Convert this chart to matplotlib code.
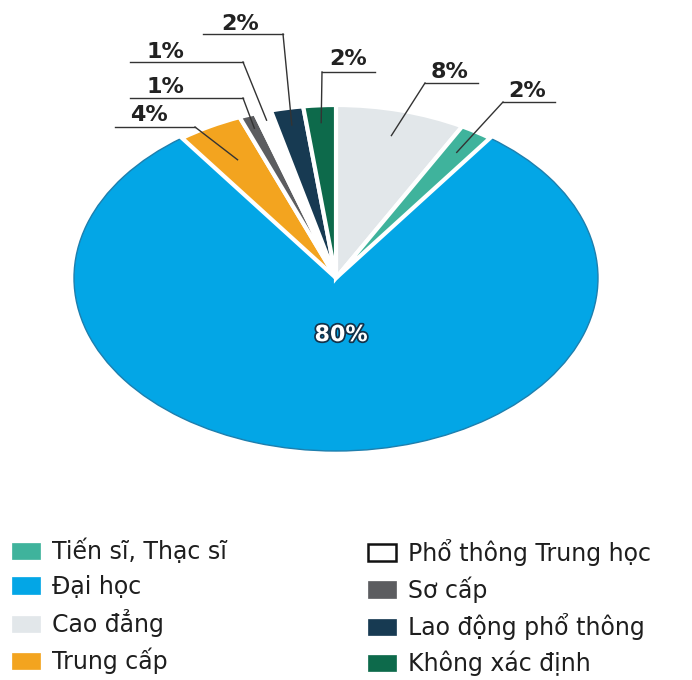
import matplotlib.pyplot as plt
import matplotlib.patheffects as pe
from matplotlib.patches import Patch
import numpy as np

# categories in legend order
categories = ["Tiến sĩ, Thạc sĩ", "Đại học", "Cao đẳng", "Trung cấp",
              "Phổ thông Trung học", "Sơ cấp", "Lao động phổ thông", "Không xác định"]
shares = [2, 80, 8, 4, 1, 1, 2, 2]
colors = ["#3fb39c", "#03a6e6", "#e2e7ea", "#f3a41f",
          "#ffffff", "#5c5d60", "#173a52", "#0d6a4b"]

# clockwise order of the slices starting at 12 o'clock
pie_order = [2, 0, 1, 3, 5, 4, 6, 7]

# label layout (pixels, y down): text centre, underline x0/x1/y, anchor radius in slice
label_text = {2: (450, 72), 0: (527, 91), 3: (149, 115), 5: (165, 87),
              4: (165, 52), 6: (240, 24), 7: (348, 59)}
label_line = {2: (425, 478, 83), 0: (503, 555, 102), 3: (115, 195, 127),
              5: (130, 243, 98), 4: (130, 243, 62), 6: (203, 283, 34),
              7: (322, 375, 72)}
anchor_r = {2: 0.85, 0: 0.86, 3: 0.78, 5: 0.92, 4: 0.95, 6: 0.90, 7: 0.90}

W, H = 692, 680
CX, CY, RX, RY = 336, 278, 262, 173


def px(x, y):
    return (x - CX) / RX, (CY - y) / RY


fig = plt.figure(figsize=(W / 100, H / 100), dpi=100)
ax = fig.add_axes([0, 0, 1, 1])

vals = [shares[i] for i in pie_order]
cols = [colors[i] for i in pie_order]
wedges, _ = ax.pie(vals, colors=cols, startangle=90, counterclock=False,
                   radius=1.0, wedgeprops=dict(edgecolor="white", linewidth=3))
for w, i in zip(wedges, pie_order):
    if i == 1:
        w.set_edgecolor("#1d7fae")
        w.set_linewidth(1.0)
        w.set_zorder(1)
    else:
        w.set_zorder(2)

ax.set_aspect("auto")
x0, y0 = px(0, H)
x1, y1 = px(W, 0)
ax.set_xlim(x0, x1)
ax.set_ylim(y0, y1)
ax.axis("off")

# percentage labels with leader lines
for w, i in zip(wedges, pie_order):
    txt = f"{shares[i]}%"
    if i == 1:
        ax.text(0.02, -0.33, txt, ha="center", va="center", fontsize=16,
                fontweight="bold", color="white", family="DejaVu Sans",
                path_effects=[pe.withStroke(linewidth=2.5, foreground="#12324a")])
        continue
    ang = np.deg2rad((w.theta1 + w.theta2) / 2)
    ax_, ay_ = anchor_r[i] * np.cos(ang), anchor_r[i] * np.sin(ang)
    lx0, lx1, ly = label_line[i]
    tx, ty = label_text[i]
    elbow_x = lx0 if tx > CX + ax_ * RX else lx1
    ex, ey = px(elbow_x, ly)
    sx0, sy = px(lx0, ly)
    sx1, _ = px(lx1, ly)
    ax.plot([sx0, sx1], [sy, sy], color="#333333", lw=1.0, zorder=3)
    ax.plot([ex, ax_], [ey, ay_], color="#333333", lw=1.0, zorder=3)
    tdx, tdy = px(tx, ty)
    ax.text(tdx, tdy, txt, ha="center", va="center", fontsize=16,
            fontweight="bold", color="#222222", family="DejaVu Sans", zorder=4)

# legend in two columns
handles = []
for i, c in enumerate(colors):
    ec = "#111111" if c == "#ffffff" else c
    lw = 1.8 if c == "#ffffff" else 0.5
    handles.append(Patch(facecolor=c, edgecolor=ec, linewidth=lw, label=categories[i]))

leg_kw = dict(loc="upper left", frameon=False, borderpad=0,
              borderaxespad=0, handlelength=1.2, handleheight=0.7,
              handletextpad=0.5, labelspacing=0.45,
              prop={"family": "DejaVu Sans", "size": 17})
leg1 = fig.legend(handles=handles[:4], bbox_to_anchor=(0.017, 0.208), **leg_kw)
leg2 = fig.legend(handles=handles[4:], bbox_to_anchor=(0.532, 0.208), **leg_kw)
for leg in (leg1, leg2):
    for t in leg.get_texts():
        t.set_color("#1e1e1e")

fig.savefig("out.png", dpi=100)
